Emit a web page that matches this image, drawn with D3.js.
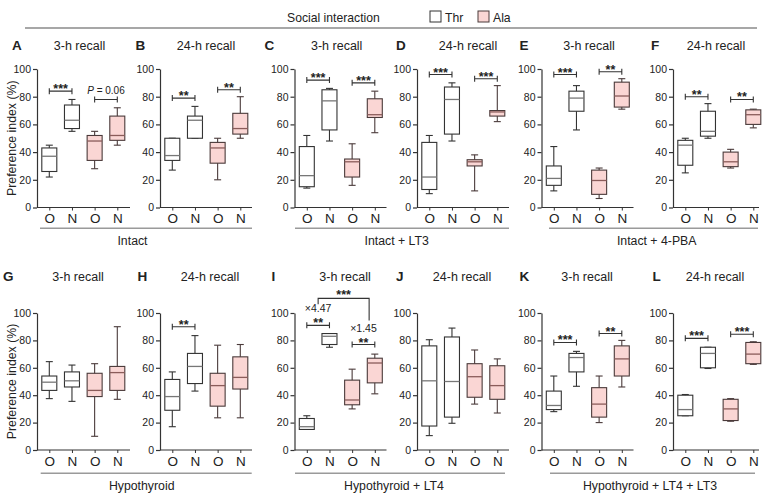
<!DOCTYPE html>
<html><head><meta charset="utf-8">
<script src="https://cdn.jsdelivr.net/npm/d3@7"></script>
<style>
body{margin:0;background:#fff}
svg{display:block}
text{font-family:"Liberation Sans",Arial,Helvetica,sans-serif;fill:#222}
</style>
</head><body>
<svg id="chart" width="765" height="504"></svg>
<script>
// ---------------- data ----------------
const panelLetters = ["A","B","C","D","E","F","G","H","I","J","K","L"];
const panelTitles = ["3-h recall","24-h recall","3-h recall","24-h recall","3-h recall","24-h recall",
                     "3-h recall","24-h recall","3-h recall","24-h recall","3-h recall","24-h recall"];
const categories = ["O","N","O","N"];
const boxSeries = ["Thr","Thr","Ala","Ala"];
const legendSeries = ["Thr","Ala"];
const legendTitle = "Social interaction";
const groupLabels = ["Intact","Intact + LT3","Intact + 4-PBA","Hypothyroid","Hypothyroid + LT4","Hypothyroid + LT4 + LT3"];
const yTicks = [0,20,40,60,80,100];
const yLabel = "Preference index (%)";

// each box: [whisker low, Q1, median, Q3, whisker high]; order Thr O, Thr N, Ala O, Ala N
const boxesA = [[22,26,37,43,45],[55,57,63,74,78],[28,34,48,52,55],[45,48.5,52,66,72]];
const boxesB = [[27,34,37.5,50,50],[50,50,63,66,73],[20,32,43,47,50],[50,53,57,68,80]];
const boxesC = [[14,15,23,44,52],[48,56,77,85,86],[16,22,33,35,46],[54,65,67,78.5,84]];
const boxesD = [[10,13,22,47,52],[48,53,78,87,90],[12,30,33,34.5,38],[62,66,69,70,88]];
const boxesE = [[12,16,21,30,44],[56,69.5,79,84,88],[6.5,9.5,19.5,27,28.5],[71,72.5,80.5,90.5,93]];
const boxesF = [[25,30.5,45,48.5,50],[50,51.5,55,69.5,75],[28.5,29.5,33,40,42],[57.5,60,67,70.5,71]];
const boxesG = [[37.5,43.5,49.5,54,64.5],[35.5,46,50.5,57,62],[10,39,43.5,56,63],[37,43.5,56.5,61,90]];
const boxesH = [[17,29,39,51.5,57],[43,48.5,61,70.5,83.5],[23.5,32,47,56,76.5],[23.5,44.5,53,68,77]];
const boxesI = [[15,15,17,23,25],[75,77,83,85,85],[30,33,36.5,51,59],[41,49,63.5,67,70]];
const boxesJ = [[10.5,17.5,50.5,76,80.5],[19.5,24,50,82.5,89],[33.5,38.5,53.5,63,73],[27,37,47,61.5,66.5]];
const boxesK = [[28,29.5,32.5,43,54],[46.5,57,67.5,70.5,72],[20,24,33.5,45.5,54],[46,54,66.5,76,80]];
const boxesL = [[25,25,29.5,40,40.5],[59.5,60,70.5,75,75],[21,21.5,30,37,37.5],[62.5,63,70,78.5,79]];
const panelBoxes = [boxesA,boxesB,boxesC,boxesD,boxesE,boxesF,boxesG,boxesH,boxesI,boxesJ,boxesK,boxesL];

// significance: [from category, to category, bracket value, label]
const sigA = [[0,1,84,"***"],[2,3,78,"P = 0.06"]];
const sigB = [[0,1,79,"**"],[2,3,85,"**"]];
const sigC = [[0,1,92,"***"],[2,3,90,"***"]];
const sigD = [[0,1,96,"***"],[2,3,93,"***"]];
const sigE = [[0,1,96,"***"],[2,3,98,"**"]];
const sigF = [[0,1,80,"**"],[2,3,78,"**"]];
const sigG = [];
const sigH = [[0,1,90,"**"]];
const sigI = [[0,1,91,"**"],[2,3,77,"**"]];
const sigJ = [];
const sigK = [[0,1,78.5,"***"],[2,3,85,"**"]];
const sigL = [[0,1,81.5,"***"],[2,3,84.5,"***"]];
const panelSigs = [sigA,sigB,sigC,sigD,sigE,sigF,sigG,sigH,sigI,sigJ,sigK,sigL];

// panel I extras: fold-change labels [x category, value, text] and cross bracket
const foldI = [[0.5,103.5,"×4.47"],[2.5,88.5,"×1.45"]];
const crossI = {from:0.5, to:2.75, top:110.7, leftEnd:106.3, rightEnd:94.5, label:"***"};

// ---------------- layout ----------------
const colAxisX = [37,160,294.5,417,541.5,673];
const colAxisW = [93,92,92,92,92,86];
const rowYRange = [[207.5,69],[450,313]];
const letterX = [[12,135.5,264.5,396,519.5,651],[3,137.5,271.5,396,519.5,652.5]];
const titleX = [[79.5,206,336.7,468,589,716],[78,210,345,462,587,715]];
const rowTitleY = [50,281];
const groupLineX = [[[40,252],[295,509],[549,758]],[[40.7,251.7],[295,505],[550,755]]];
const groupLabelX = [[132.5,396.7,656.7],[141.7,394,650]];
const groupLineY = [228.3,473.3];
const groupLabelY = [244.5,489.5];

const fillOf = {Thr:"#ffffff", Ala:"#fad6d4"};
const strokeOf = {Thr:"#333333", Ala:"#4a3a3a"};
const medianOf = {Thr:"#777777", Ala:"#8a5c5a"};

const svg = d3.select("#chart");

// ---------------- legend ----------------
const leg = svg.append("g");
leg.append("text").attr("x",287).attr("y",21.5).attr("font-size",12.2).text(legendTitle);
const legX = {Thr:430, Ala:478};
legendSeries.forEach(s=>{
  leg.append("rect").attr("x",legX[s]).attr("y",11).attr("width",11).attr("height",11)
     .attr("fill",fillOf[s]).attr("stroke",strokeOf[s]).attr("stroke-width",1);
  leg.append("text").attr("x",legX[s]+15).attr("y",21.5).attr("font-size",12.2).text(s);
});
svg.append("line").attr("x1",25).attr("x2",757).attr("y1",28).attr("y2",28)
   .attr("stroke","#8a8a8a").attr("stroke-width",1.6);

// ---------------- panels ----------------
panelLetters.forEach((L,i)=>{
  const row = Math.floor(i/6), col = i%6;
  const ax = colAxisX[col];
  const y = d3.scaleLinear().domain([0,100]).range(rowYRange[row]);
  const x = d3.scaleLinear().domain([0,3]).range([ax+12.3, ax+12.3+68]);
  const g = svg.append("g");

  // letter & title
  g.append("text").attr("x",letterX[row][col]).attr("y",rowTitleY[row])
   .attr("font-family","DejaVu Sans, sans-serif").attr("font-weight","bold").attr("font-size",13.5).text(L);
  g.append("text").attr("x",titleX[row][col]).attr("y",rowTitleY[row]).attr("text-anchor","middle")
   .attr("font-size",12.5).text(panelTitles[i]);

  // y axis
  const ya = g.append("g").attr("transform",`translate(${ax},0)`)
    .call(d3.axisLeft(y).tickValues(yTicks).tickSize(4).tickPadding(2).tickSizeOuter(0));
  ya.select(".domain").attr("stroke","#333").attr("stroke-width",1.2);
  ya.selectAll(".tick line").attr("stroke","#333").attr("stroke-width",1.2);
  ya.selectAll(".tick text").attr("font-size",10.5).attr("fill","#222")
    .attr("font-family","Liberation Sans, Arial, sans-serif");

  // x axis
  const xa = g.append("g").attr("transform",`translate(0,${rowYRange[row][0]})`)
    .call(d3.axisBottom(x).tickValues([0,1,2,3]).tickFormat(d=>categories[d]).tickSize(3).tickPadding(3).tickSizeOuter(0));
  xa.select(".domain").attr("d",`M${ax},0H${ax+colAxisW[col]}`).attr("stroke","#333").attr("stroke-width",1.2);
  xa.selectAll(".tick line").attr("stroke","#333").attr("stroke-width",1);
  xa.selectAll(".tick text").attr("font-size",13.5).attr("fill","#222")
    .attr("font-family","Liberation Sans, Arial, sans-serif");

  // y label
  if (col===0){
    const cy = (rowYRange[row][0]+rowYRange[row][1])/2;
    g.append("text").attr("transform",`translate(15.5,${cy}) rotate(-90)`).attr("text-anchor","middle")
     .attr("font-size",12.3).text(yLabel);
  }

  // boxes
  const bw = 15, cw = 7;
  panelBoxes[i].forEach((b,k)=>{
    const s = boxSeries[k];
    const cx = x(k);
    const bg = g.append("g");
    bg.append("line").attr("x1",cx).attr("x2",cx).attr("y1",y(b[0])).attr("y2",y(b[4]))
      .attr("stroke",strokeOf[s]).attr("stroke-width",1.1);
    [b[0],b[4]].forEach(v=>bg.append("line").attr("x1",cx-cw/2).attr("x2",cx+cw/2)
      .attr("y1",y(v)).attr("y2",y(v)).attr("stroke",strokeOf[s]).attr("stroke-width",1.1));
    bg.append("rect").attr("x",cx-bw/2).attr("width",bw).attr("y",y(b[3])).attr("height",Math.max(0.5,y(b[1])-y(b[3])))
      .attr("fill",fillOf[s]).attr("stroke",strokeOf[s]).attr("stroke-width",1.1);
    bg.append("line").attr("x1",cx-bw/2).attr("x2",cx+bw/2).attr("y1",y(b[2])).attr("y2",y(b[2]))
      .attr("stroke",medianOf[s]).attr("stroke-width",1.3);
  });

  // significance brackets
  panelSigs[i].forEach(([a,b,v,lab])=>{
    const yy = y(v), x1 = x(a), x2 = x(b);
    g.append("path").attr("d",`M${x1},${yy-3}V${yy+3}M${x1},${yy}H${x2}M${x2},${yy-3}V${yy+3}`)
      .attr("fill","none").attr("stroke","#333").attr("stroke-width",1.1);
    if (lab.startsWith("P")){
      const t = g.append("text").attr("x",(x1+x2)/2).attr("y",yy-5).attr("text-anchor","middle").attr("font-size",10);
      t.append("tspan").attr("font-style","italic").text("P");
      t.append("tspan").text(lab.slice(1));
    } else {
      g.append("text").attr("x",(x1+x2)/2).attr("y",yy+2).attr("text-anchor","middle")
       .attr("font-size",12.5).attr("font-weight","bold").text(lab);
    }
  });

  if (L==="I"){
    foldI.forEach(([c,v,t])=>{
      g.append("text").attr("x",x(c)).attr("y",y(v)+3.5).attr("text-anchor","middle").attr("font-size",10.5).text(t);
    });
    const xl = x(crossI.from), xr = x(crossI.to);
    g.append("path").attr("d",`M${xl},${y(crossI.leftEnd)}V${y(crossI.top)}H${xr}V${y(crossI.rightEnd)}`)
      .attr("fill","none").attr("stroke","#333").attr("stroke-width",1.1);
    g.append("text").attr("x",(xl+xr)/2).attr("y",y(crossI.top)+0.5).attr("text-anchor","middle")
      .attr("font-size",12.5).attr("font-weight","bold").text(crossI.label);
  }
});

// ---------------- group lines and labels ----------------
groupLabels.forEach((lab,j)=>{
  const row = Math.floor(j/3), k = j%3;
  const [x1,x2] = groupLineX[row][k];
  svg.append("line").attr("x1",x1).attr("x2",x2).attr("y1",groupLineY[row]).attr("y2",groupLineY[row])
     .attr("stroke","#9a9a9a").attr("stroke-width",1.5);
  svg.append("text").attr("x",groupLabelX[row][k]).attr("y",groupLabelY[row]).attr("text-anchor","middle")
     .attr("font-size",12.3).text(lab);
});
</script>
</body></html>
